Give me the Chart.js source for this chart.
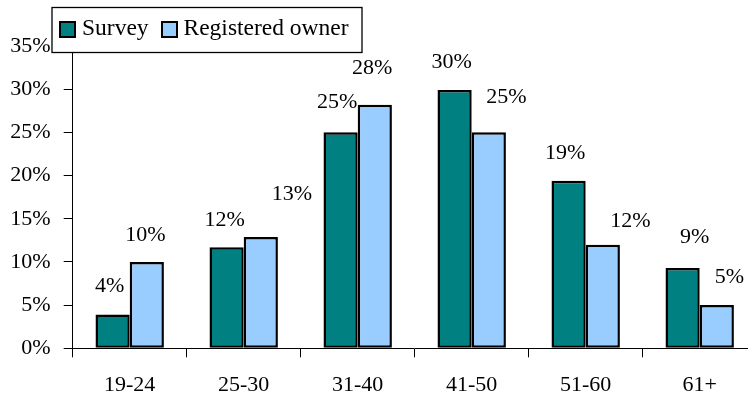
<!DOCTYPE html>
<html>
<head>
<meta charset="utf-8">
<script src="https://cdn.jsdelivr.net/npm/chart.js@4"></script>
<style>
  html, body { margin: 0; padding: 0; background: #fff; overflow: hidden; }
  #wrap { width: 748px; height: 398px; overflow: hidden; }
</style>
</head>
<body>
<div id="wrap"><canvas id="c" width="760" height="398"></canvas></div>
<script>
// Age distribution of vehicle owners, in percent
const ageGroups = ['19-24', '25-30', '31-40', '41-50', '51-60', '61+'];
const surveyShare = [3.9, 11.7, 25.0, 29.9, 19.4, 9.3];
const ownerShare = [10.0, 12.9, 28.2, 25.0, 12.0, 5.0];
const yTickValues = [0, 5, 10, 15, 20, 25, 30, 35];

const SERIF = '"Liberation Serif", "Times New Roman", serif';
const FONT_SIZE = 22;
const LEGEND_FONT_SIZE = 23.5;

// Hand-placed value labels: offset of each label centre from the bar's top centre
const valueLabelOffsets = [
  { dx: [-3, -2, -3.5, -3, -3.5, 12], dy: [-28, -27, -30, -28, -28, -31] },
  { dx: [-1.5, 31, -2.7, 17.5, 27.5, 12.5], dy: [-27, -43, -37, -35, -23, -28] }
];

const valueLabels = {
  id: 'valueLabels',
  afterDatasetsDraw(chart) {
    const ctx = chart.ctx;
    ctx.save();
    ctx.font = FONT_SIZE + 'px ' + SERIF;
    ctx.fillStyle = '#000';
    ctx.textAlign = 'center';
    ctx.textBaseline = 'middle';
    chart.data.datasets.forEach((ds, di) => {
      const meta = chart.getDatasetMeta(di);
      const off = valueLabelOffsets[di];
      meta.data.forEach((bar, i) => {
        const txt = Math.round(ds.data[i]) + '%';
        ctx.fillText(txt, bar.x + off.dx[i], bar.y + off.dy[i]);
      });
    });
    ctx.restore();
  }
};

// Boxed legend sitting over the top-left of the plot
const boxedLegend = {
  id: 'boxedLegend',
  afterDraw(chart) {
    const ctx = chart.ctx;
    const box = { x: 52, y: 7.5, w: 310, h: 45 };
    ctx.save();
    ctx.fillStyle = '#fff';
    ctx.fillRect(box.x, box.y, box.w, box.h);
    ctx.strokeStyle = '#000';
    ctx.lineWidth = 1.3;
    ctx.strokeRect(box.x, box.y, box.w, box.h);
    ctx.font = LEGEND_FONT_SIZE + 'px ' + SERIF;
    ctx.textAlign = 'left';
    ctx.textBaseline = 'alphabetic';
    const items = [{ sx: 60, tx: 82 }, { sx: 162, tx: 183.5 }];
    chart.data.datasets.forEach((ds, di) => {
      const it = items[di];
      ctx.fillStyle = ds.backgroundColor;
      ctx.fillRect(it.sx, 22, 15, 15);
      ctx.lineWidth = 2;
      ctx.strokeStyle = '#000';
      ctx.strokeRect(it.sx, 22, 15, 15);
      ctx.fillStyle = '#000';
      ctx.fillText(ds.label, it.tx, 35);
    });
    ctx.restore();
  }
};

new Chart(document.getElementById('c'), {
  type: 'bar',
  data: {
    labels: ageGroups,
    datasets: [
      {
        label: 'Survey',
        data: surveyShare,
        backgroundColor: '#008080',
        borderColor: '#000',
        borderWidth: 2.5,
        borderSkipped: false
      },
      {
        label: 'Registered owner',
        data: ownerShare,
        backgroundColor: '#99CCFF',
        borderColor: '#000',
        borderWidth: 2.5,
        borderSkipped: false
      }
    ]
  },
  options: {
    responsive: false,
    animation: false,
    devicePixelRatio: 1,
    categoryPercentage: 0.6,
    barPercentage: 1.0,
    layout: { padding: { top: 46, right: 3.3, left: 0, bottom: 0 } },
    plugins: {
      legend: { display: false },
      tooltip: { enabled: false }
    },
    scales: {
      x: {
        offset: true,
        grid: {
          display: true,
          offset: true,
          drawOnChartArea: false,
          drawTicks: true,
          tickLength: 9,
          color: '#000',
          lineWidth: 1
        },
        border: { display: true, color: '#000', width: 1 },
        ticks: {
          color: '#000',
          padding: 15,
          font: { family: SERIF, size: FONT_SIZE }
        },
        afterFit(scale) { scale.height = 49.7; }
      },
      y: {
        min: 0,
        max: 35,
        afterBuildTicks(scale) {
          scale.ticks = yTickValues.map(v => ({ value: v }));
        },
        grid: {
          display: true,
          drawOnChartArea: false,
          drawTicks: true,
          tickLength: 9,
          color: '#000',
          lineWidth: 1
        },
        border: { display: true, color: '#000', width: 1 },
        ticks: {
          color: '#000',
          padding: 13,
          font: { family: SERIF, size: FONT_SIZE },
          callback: v => v + '%'
        },
        afterFit(scale) { scale.width = 72.7; }
      }
    }
  },
  plugins: [valueLabels, boxedLegend]
});
</script>
</body>
</html>
